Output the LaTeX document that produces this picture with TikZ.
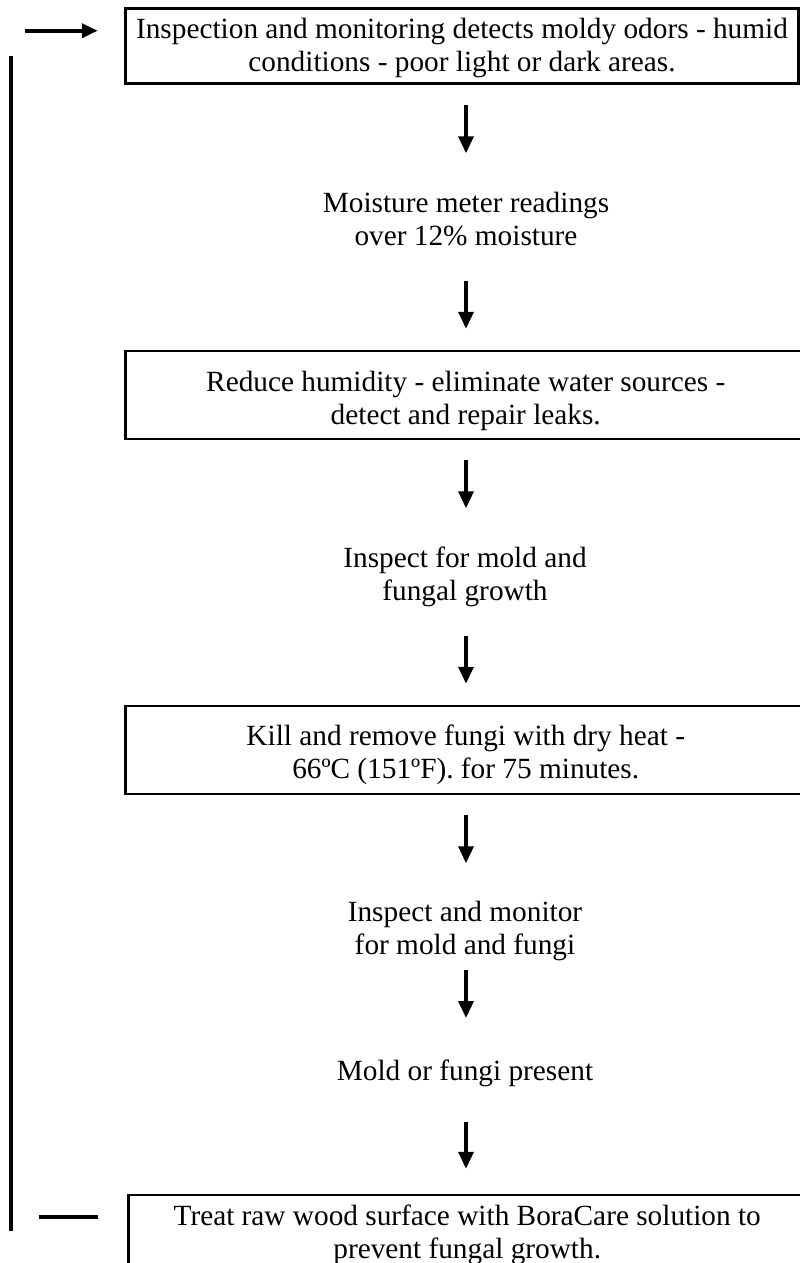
\documentclass[tikz,border=0pt]{standalone}
\usepackage{fontspec}
\setmainfont{Liberation Serif}
\usetikzlibrary{arrows.meta,calc}
\begin{document}
\begin{tikzpicture}[x=1pt,y=-1pt,
  txt/.style={font=\fontsize{29.3}{33}\selectfont, inner sep=0pt, align=center},
  stepbox/.style={txt, draw, line width=2.5pt},
  label/.style={txt, anchor=base},
  flow/.style={line width=3.5pt, -{Triangle[length=17pt,width=15pt]}},
  loopline/.style={line width=4.5pt},
  inarrow/.style={line width=4pt, -{Triangle[length=16pt,width=14pt]}},
]
\useasboundingbox (0,0) rectangle (800,1263);
\clip (0,0) rectangle (800,1263);

% spine for the down arrows
\coordinate (sp) at (466,0);

% process boxes (the base of a two-line node is its last line)
\node[stepbox, minimum width=673pt, minimum height=75pt, text height=56pt, text depth=6pt]
  (box1) at (462,46) {Inspection and monitoring detects moldy odors - humid\\conditions - poor light or dark areas.};
\node[stepbox, minimum width=680.5pt, minimum height=88pt, text height=62pt, text depth=4pt]
  (box2) at (465.75,395) {Reduce humidity - eliminate water sources -\\detect and repair leaks.};
\node[stepbox, minimum width=680.5pt, minimum height=88pt, text height=60pt, text depth=4pt]
  (box3) at (465.75,750) {Kill and remove fungi with dry heat -\\66ºC (151ºF). for 75 minutes.};
\node[stepbox, minimum width=677.5pt, minimum height=100pt, text height=32pt, text depth=6pt]
  (box4) at (467.25,1245) {Treat raw wood surface with BoraCare solution to\\prevent fungal growth.};

% plain text steps
\node[label] (moist) at (466,245) {Moisture meter readings\\over 12\% moisture};
\node[label] (insp)  at (465,600) {Inspect for mold and\\fungal growth};
\node[label] (mon)   at (465,954) {Inspect and monitor\\for mold and fungi};
\node[label] (pres)  at (465,1080) {Mold or fungi present};

% down arrows
\draw[flow] ($(box1.south -| sp)+(0,20.5)$) -- ++(0,48);
\draw[flow] ($(box2.north -| sp)+(0,-69)$) -- ++(0,48);
\draw[flow] ($(box2.south -| sp)+(0,20)$) -- ++(0,48);
\draw[flow] ($(box3.north -| sp)+(0,-69)$) -- ++(0,48);
\draw[flow] ($(box3.south -| sp)+(0,20)$) -- ++(0,48);
\draw[flow] ($(pres.base -| sp)+(0,-110)$) -- ++(0,48);
\draw[flow] ($(box4.north -| sp)+(0,-72)$) -- ++(0,47);

% loop back to the start
\coordinate (inTip) at ($(box1.north west)+(-26.5,23.5)$);
\coordinate (inTail) at ($(inTip)+(-73,0)$);
\coordinate (loopTop) at (11,56);
\coordinate (loopBot) at (11,1231);
\coordinate (outA) at ($(box4.north west)+(-88,23)$);
\coordinate (outB) at ($(box4.north west)+(-29.5,23)$);
\draw[inarrow] (inTail) -- (inTip);
\draw[loopline] (loopTop) -- (loopBot);
\draw[loopline] (outA) -- (outB);
\end{tikzpicture}
\end{document}
